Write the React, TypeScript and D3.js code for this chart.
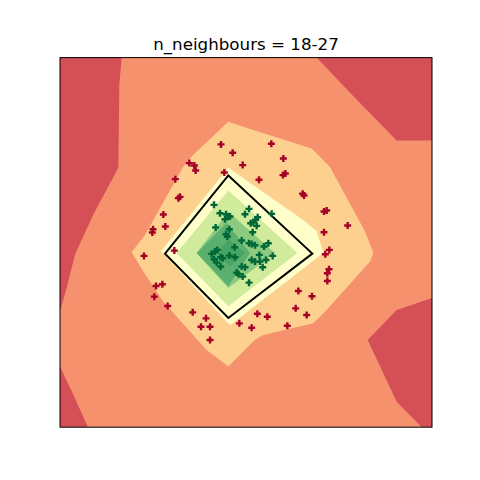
import React, { useEffect, useRef } from 'react';
import * as d3 from 'd3';

type Pt = [number, number];

// contour bands (outer to inner), vertices in plot units
const darkRedRegions: Pt[][] = [
  [[0, 0], [18.5, 0], [17.8, 8], [17.5, 33], [10, 47], [4.5, 59], [2, 69], [0, 76]],
  [[0, 92.5], [4, 101], [8.4, 110.7], [0, 110.7]],
  [[77, 0], [111.6, 0], [111.6, 24.8], [101, 24.8], [86, 9.5]],
  [[111.6, 72], [101, 75.6], [92.3, 84.6], [101, 103.1], [108.5, 110.7], [111.6, 110.7]],
];
const lightOrangeRegion: Pt[] = [
  [50.5, 19.2], [57, 21.4], [75.5, 27.2], [81, 32.8], [91.5, 52.1], [94, 58.5], [93, 61.1],
  [80, 75.6], [76, 79.6], [61, 83.1], [58.5, 84.5], [50.5, 92.5], [44, 87.6], [31, 73.1],
  [25, 64.1], [21.5, 58.3], [25.5, 53.1], [37, 32.6], [40, 29.1],
];
const paleYellowRegion: Pt[] = [
  [50.5, 33], [73.5, 49], [77, 52], [79, 58.5], [51, 80.2], [30.3, 58],
];
const lightGreenRegion: Pt[] = [[50.5, 39.8], [71.2, 58.5], [50.5, 74.5], [35, 58.5]];
const midGreenRegion: Pt[] = [[50.5, 46.2], [64.5, 58.5], [50.5, 69], [41, 58.5]];
const darkGreenRegion: Pt[] = [[50, 49.5], [57, 58.5], [50.5, 68.5], [41, 58.5]];
const darkestGreenRegion: Pt[] = [[47, 58.5], [50.5, 54.5], [55.5, 58.5], [51, 62.5]];

const bandColors = ['#f6916e', '#d45056', '#fdd08f', '#fefecb', '#d0eb9b', '#8ccb7f', '#5bb06f', '#46a466'];

// decision boundary
const boundary: Pt[] = [[50.5, 35.3], [75.7, 58.7], [50.5, 78], [31.5, 58.7]];

const redPoints: Pt[] = [
  [48.3, 26], [51.8, 28.5], [63.4, 25.8], [67, 30.2], [54.8, 32.2], [38.8, 31.6], [40.3, 32.3],
  [40.7, 33.8], [49.3, 34.4], [67.6, 34.7], [66.9, 35.2], [59.7, 36.6], [34.6, 36.4], [72.8, 40.8],
  [73.2, 41.3], [36, 41.7], [35.5, 42.1], [31, 47], [79.2, 46.1], [80, 45.8], [27.9, 51.4],
  [27.7, 52.4], [31.6, 50.6], [86.3, 50.3], [79.2, 52.3], [25.2, 59.4], [34.3, 57.8], [80.8, 57.6],
  [79.6, 58.9], [80.7, 63.4], [80.2, 64.6], [80.2, 66.9], [28.8, 68.4], [30.7, 67.9], [28.3, 71.6],
  [32.3, 74.4], [71.5, 69.9], [75.6, 71.5], [39.8, 76.3], [43.8, 78.1], [70.7, 75.1], [74, 77.1],
  [59.2, 76.7], [62.2, 77.6], [53.8, 79.6], [57.5, 80.9], [42.3, 80.6], [45, 80.6], [68.2, 80.3],
  [45, 84.6],
];

const greenPoints: Pt[] = [
  [46.2, 44.1], [56.7, 45.3], [55.5, 46.9], [48, 46.6], [49.8, 46.9], [50.5, 47.6], [51, 47.6],
  [49.5, 48.4], [59.3, 47.8], [58.7, 48.6], [58, 49.3], [57.2, 49.6], [59, 50.4], [63.5, 46.8],
  [46.7, 50.9], [57.8, 52.3], [50.8, 51.4], [49.8, 52.9], [50.2, 53.6], [54.5, 54.8], [56.7, 55.6],
  [57.5, 55.8], [58.5, 56.2], [62.5, 55.6], [61.2, 56.6], [52.4, 56.8], [46.5, 58.1], [47.2, 57.6],
  [45.5, 58.8], [59.8, 59.1], [63.8, 59.4], [48.2, 59.8], [48.8, 60.1], [50.8, 59.3], [46.2, 60.4],
  [47, 61.4], [48.2, 62.6], [57.5, 60.6], [58.5, 61.1], [60, 61.1], [61.8, 60.6], [60.8, 62.8],
  [54.5, 62.6], [55.5, 62.8], [53, 64.4], [53.5, 64.8], [54.8, 65.6], [56.7, 67.4], [52.5, 59.8],
];

const W = 480;
const H = 480;
const margin = { left: 60, right: 48, top: 57.6, bottom: 52.8 };

export default function App() {
  const svgRef = useRef<SVGSVGElement>(null);

  useEffect(() => {
    if (!svgRef.current) return;
    const svg = d3.select(svgRef.current);
    svg.selectAll('*').remove();

    const x = d3.scaleLinear().domain([0, 111.6]).range([margin.left, W - margin.right]);
    const y = d3.scaleLinear().domain([0, 110.7]).range([margin.top, H - margin.bottom]);

    svg.append('defs').append('clipPath').attr('id', 'plot-clip')
      .append('rect')
      .attr('x', x(0)).attr('y', y(0))
      .attr('width', x(111.6) - x(0)).attr('height', y(110.7) - y(0));

    const plot = svg.append('g').attr('clip-path', 'url(#plot-clip)');

    // background band
    plot.append('rect')
      .attr('x', x(0)).attr('y', y(0))
      .attr('width', x(111.6) - x(0)).attr('height', y(110.7) - y(0))
      .attr('fill', bandColors[0]);

    const poly = d3.line<Pt>().x(d => x(d[0])).y(d => y(d[1])).curve(d3.curveLinearClosed);

    darkRedRegions.forEach(r => {
      plot.append('path').attr('d', poly(r)).attr('fill', bandColors[1]);
    });

    [lightOrangeRegion, paleYellowRegion, lightGreenRegion, midGreenRegion, darkGreenRegion, darkestGreenRegion]
      .forEach((r, i) => {
        plot.append('path').attr('d', poly(r)).attr('fill', bandColors[i + 2]);
      });

    // boundary line
    plot.append('path')
      .attr('d', poly(boundary))
      .attr('fill', 'none')
      .attr('stroke', '#000')
      .attr('stroke-width', 2);

    // scatter markers (filled plus)
    const plus = 'M-3.5,-1.2H-1.2V-3.5H1.2V-1.2H3.5V1.2H1.2V3.5H-1.2V1.2H-3.5Z';
    const addPoints = (pts: Pt[], color: string) => {
      plot.append('g')
        .selectAll('path')
        .data(pts)
        .enter()
        .append('path')
        .attr('d', plus)
        .attr('transform', d => `translate(${x(d[0])},${y(d[1])})`)
        .attr('fill', color);
    };
    addPoints(redPoints, '#a50026');
    addPoints(greenPoints, '#006837');

    // frame
    svg.append('rect')
      .attr('x', x(0)).attr('y', y(0))
      .attr('width', x(111.6) - x(0)).attr('height', y(110.7) - y(0))
      .attr('fill', 'none')
      .attr('stroke', '#000')
      .attr('stroke-width', 1);

    // title
    svg.append('text')
      .attr('x', (x(0) + x(111.6)) / 2)
      .attr('y', margin.top - 8)
      .attr('text-anchor', 'middle')
      .attr('font-family', 'DejaVu Sans, sans-serif')
      .attr('font-size', 16.7)
      .attr('fill', '#000')
      .text('n_neighbours = 18-27');
  }, []);

  return (
    <svg
      ref={svgRef}
      width={W}
      height={H}
      style={{ position: 'absolute', left: 0, top: 0, background: '#fff' }}
    />
  );
}
